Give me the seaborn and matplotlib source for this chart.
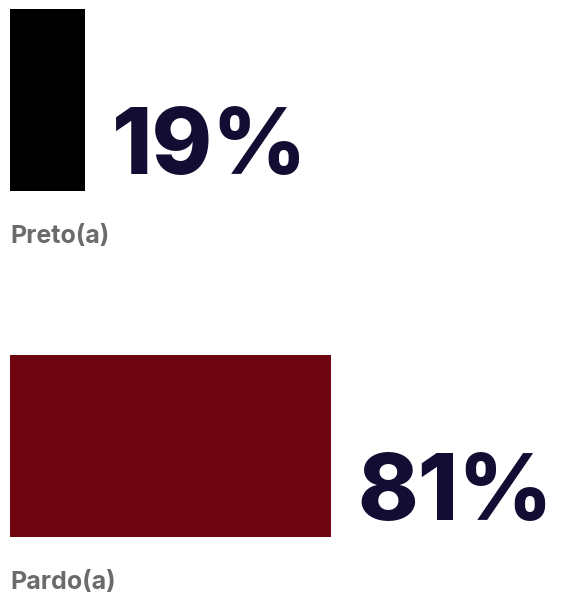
import matplotlib
matplotlib.use("Agg")
import matplotlib.pyplot as plt
import seaborn as sns
import pandas as pd

categories = ["Preto(a)", "Pardo(a)"]
values = [19, 81]
value_labels = ["19%", "81%"]
colors = ["#000000", "#6e0510"]

sns.set_theme(style="white")
plt.rcParams["font.family"] = ["Inter", "DejaVu Sans"]

W, H = 565, 607
fig = plt.figure(figsize=(W / 100, H / 100), dpi=100)
ax = fig.add_axes([10 / W, 0, 1 - 10 / W, 1])

df = pd.DataFrame({"cat": categories, "val": values})
sns.barplot(data=df, x="val", y="cat", hue="cat", palette=dict(zip(categories, colors)),
            orient="h", width=0.526, legend=False, ax=ax, saturation=1, linewidth=0)

px_per_unit = 321 / 81
ax.set_xlim(0, (W - 10) / px_per_unit)
ax.set_ylim((H - 100) / 346, -100 / 346)
ax.axis("off")

for i, (v, lab) in enumerate(zip(values, value_labels)):
    ax.annotate(lab, xy=(v, i + 0.263), xytext=(19, 12), textcoords="offset points",
                ha="left", va="baseline", fontsize=66, fontweight="heavy", color="#130d33")
    ax.annotate(categories[i], xy=(0, i + 0.263), xytext=(0, -37.5), textcoords="offset points",
                ha="left", va="baseline", fontsize=18, fontweight="bold", color="#6b6b6b")

fig.savefig("out.png", dpi=100)
